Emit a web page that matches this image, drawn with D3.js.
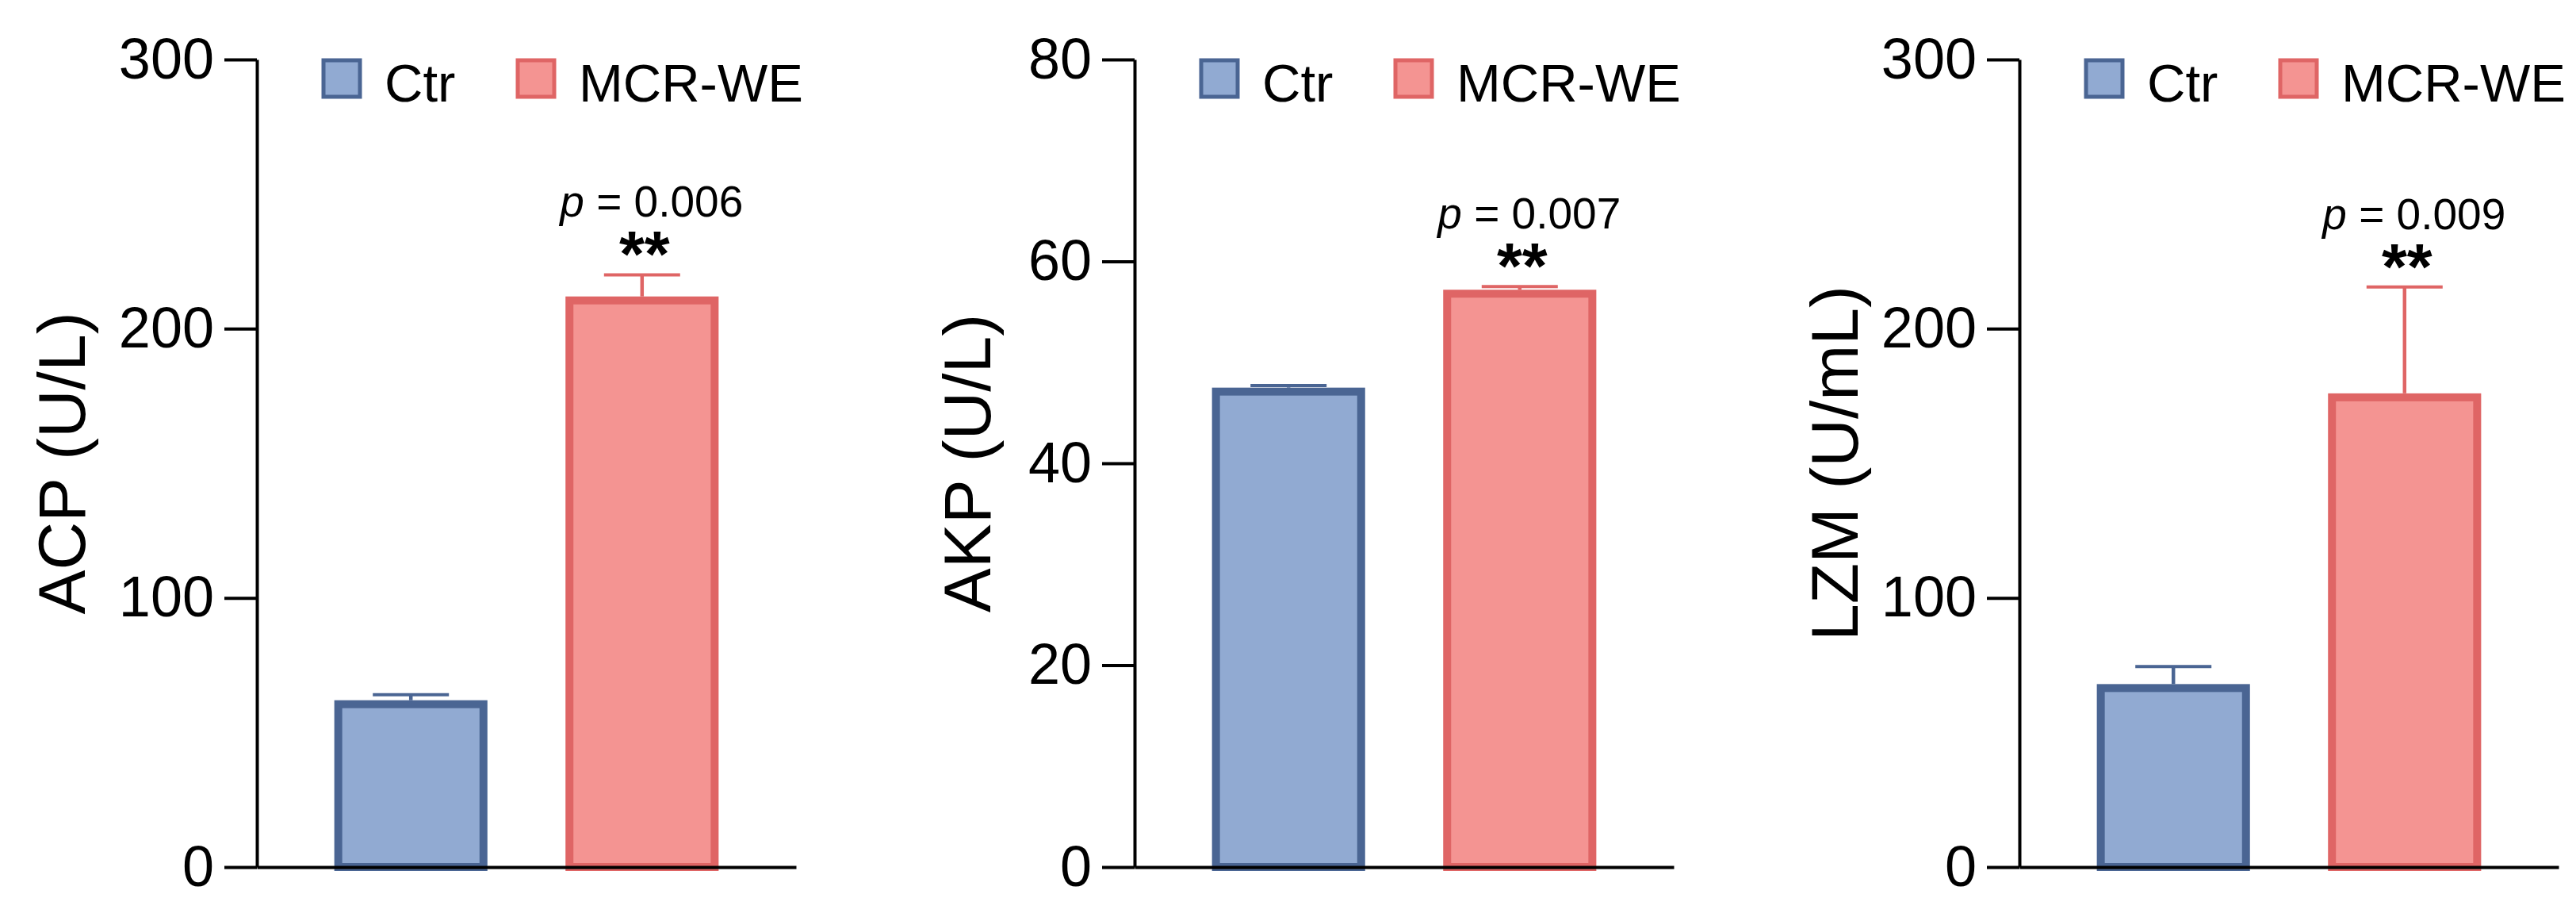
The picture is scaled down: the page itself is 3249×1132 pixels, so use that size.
<!DOCTYPE html>
<html>
<head>
<meta charset="utf-8">
<script src="https://cdn.jsdelivr.net/npm/d3@7/dist/d3.min.js"></script>
<style>
  body { margin: 0; background: #fff; }
  svg { display: block; font-family: "Liberation Sans", Arial, sans-serif; }
</style>
</head>
<body>
<div id="chart"></div>
<script>
// data
const groups = ["Ctr", "MCR-WE"];
const yTitles = ["ACP (U/L)", "AKP (U/L)", "LZM (U/mL)"];
const yMax = [300, 80, 300];
const yTicks = [[0, 100, 200, 300], [0, 20, 40, 60, 80], [0, 100, 200, 300]];
const ctrMeans = [60.5, 47.1, 66.5];
const ctrErr = [3.5, 0.6, 8];
const mcrMeans = [210.5, 56.8, 174.5];
const mcrErr = [9.5, 0.7, 41];
const pValues = ["0.006", "0.007", "0.009"];
const sigMarks = ["**", "**", "**"];

const fills = ["#91aad2", "#f49492"];
const strokes = ["#4a6593", "#df6565"];

const width = 3249, height = 1132;
const panelX = [324, 1431, 2547];
const titleGap = [217, 182, 204];
const plotTop = 75, plotBottom = 1093, plotW = 680;

const svg = d3.select("#chart")
  .append("svg")
  .attr("width", width)
  .attr("height", height);

svg.append("rect").attr("width", width).attr("height", height).attr("fill", "#fff");

const x = d3.scaleBand()
  .domain(groups)
  .range([0, plotW])
  .paddingInner(0.372)
  .paddingOuter(0.352);

yTitles.forEach((title, i) => {
  const g = svg.append("g").attr("transform", `translate(${panelX[i]},0)`);
  const y = d3.scaleLinear().domain([0, yMax[i]]).range([plotBottom, plotTop]);
  const means = [ctrMeans[i], mcrMeans[i]];
  const errs = [ctrErr[i], mcrErr[i]];
  const rows = groups.map((k, j) => ({ k, j, m: means[j], e: errs[j] }));

  // bars
  g.selectAll("rect.bar")
    .data(rows)
    .join("rect")
    .attr("class", "bar")
    .attr("x", d => x(d.k))
    .attr("y", d => y(d.m))
    .attr("width", x.bandwidth())
    .attr("height", d => y(0) - y(d.m))
    .attr("fill", d => fills[d.j])
    .attr("stroke", d => strokes[d.j])
    .attr("stroke-width", 10);

  // error bars, upper side only
  const cx = d => x(d.k) + x.bandwidth() / 2;
  g.selectAll("line.err")
    .data(rows)
    .join("line")
    .attr("class", "err")
    .attr("x1", cx).attr("x2", cx)
    .attr("y1", d => y(d.m) - 5)
    .attr("y2", d => y(d.m + d.e))
    .attr("stroke", d => strokes[d.j])
    .attr("stroke-width", 4.5);
  g.selectAll("line.cap")
    .data(rows)
    .join("line")
    .attr("class", "cap")
    .attr("x1", d => cx(d) - 48).attr("x2", d => cx(d) + 48)
    .attr("y1", d => y(d.m + d.e))
    .attr("y2", d => y(d.m + d.e))
    .attr("stroke", d => strokes[d.j])
    .attr("stroke-width", 4);

  // significance
  const top = rows[1];
  const capY = y(top.m + top.e);
  g.append("text")
    .attr("x", cx(top) + 3)
    .attr("y", capY + 2)
    .attr("text-anchor", "middle")
    .attr("font-size", 82)
    .attr("font-weight", "bold")
    .text(sigMarks[i]);
  const pt = g.append("text")
    .attr("x", cx(top) + 12)
    .attr("y", capY - 73)
    .attr("text-anchor", "middle")
    .attr("font-size", 55);
  pt.append("tspan").attr("font-style", "italic").text("p");
  pt.append("tspan").text(" = " + pValues[i]);

  // y axis
  const yAxis = g.append("g")
    .call(d3.axisLeft(y).tickValues(yTicks[i]).tickSize(41).tickSizeOuter(0).tickPadding(13));
  yAxis.selectAll("path, line").attr("stroke", "#000").attr("stroke-width", 4);
  yAxis.selectAll("text").attr("font-size", 72).attr("fill", "#000")
    .attr("font-family", "'Liberation Sans', Arial, sans-serif");

  // x baseline
  const xAxis = g.append("g")
    .attr("transform", `translate(0,${plotBottom})`)
    .call(d3.axisBottom(x).tickSize(0).tickFormat(""));
  xAxis.select("path").attr("stroke", "#000").attr("stroke-width", 4);

  // y title
  g.append("text")
    .attr("transform", `translate(${-titleGap[i]},${(plotTop + plotBottom) / 2}) rotate(-90)`)
    .attr("text-anchor", "middle")
    .attr("font-size", 84)
    .text(title);

  // legend
  const legX = [84, 329];
  const leg = g.selectAll("g.leg")
    .data(groups)
    .join("g")
    .attr("class", "leg")
    .attr("transform", (d, j) => `translate(${legX[j]},76)`);
  leg.append("rect")
    .attr("width", 46).attr("height", 46)
    .attr("fill", (d, j) => fills[j])
    .attr("stroke", (d, j) => strokes[j])
    .attr("stroke-width", 5);
  leg.append("text")
    .attr("x", 77)
    .attr("y", 52)
    .attr("font-size", 67)
    .text(d => d);
});
</script>
</body>
</html>
